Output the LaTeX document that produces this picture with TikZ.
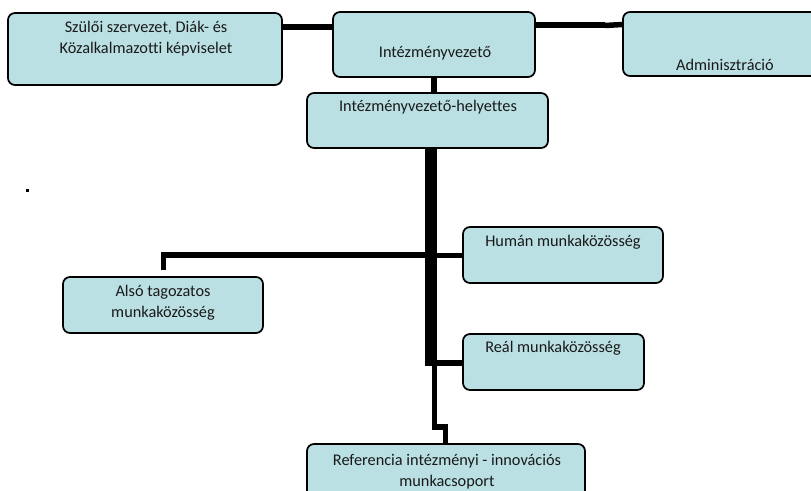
\documentclass[tikz,border=0pt]{standalone}
\usepackage{fontspec}
\setmainfont[Ligatures=NoCommon]{Carlito}
\definecolor{boxfill}{RGB}{187,224,227}
\definecolor{txt}{RGB}{25,25,25}
\tikzset{
  box/.style={draw=black, line width=1.7pt, fill=boxfill, rounded corners=7pt, inner sep=0pt},
  conn/.style={draw=black, line width=5.5pt},
  lbl/.style={font=\fontsize{16.3}{21}\selectfont, text=txt, align=center, inner sep=0pt}
}
\begin{document}
\begin{tikzpicture}[x=1pt,y=-1pt]
\useasboundingbox[fill=white] (0,0) rectangle (811,490);
% boxes
\node[box, minimum width=274pt, minimum height=72pt] (a) at (145,49) {};
\node[box, minimum width=202pt, minimum height=65pt] (b) at (434,44.5) {};
\node[box, minimum width=217pt, minimum height=64pt] (c) at (731.5,44) {};
\node[box, minimum width=241pt, minimum height=55pt] (d) at (427.5,120.5) {};
\node[box, minimum width=200pt, minimum height=56pt] (h) at (563,255) {};
\node[box, minimum width=181pt, minimum height=56pt] (r) at (553.5,362) {};
\node[box, minimum width=200pt, minimum height=56pt] (l) at (163,305) {};
\node[box, minimum width=278pt, minimum height=70pt] (f) at (446,479) {};
% labels
\node[lbl] (ta) at (146,38.5) {Szülői szervezet, Diák- és\\Közalkalmazotti képviselet};
\node[lbl] (tb) at (435,53) {Intézményvezető};
\node[lbl] (tc) at (725,65) {Adminisztráció};
\node[lbl] (td) at (428,107) {Intézményvezető-helyettes};
\node[lbl] (th) at (563,242) {Humán munkaközösség};
\node[lbl] (tr) at (553,348) {Reál munkaközösség};
\node[lbl] (tl) at (163,302.5) {Alsó tagozatos\\munkaközösség};
\node[lbl] (tf) at (447,471.5) {Referencia intézményi - innovációs\\munkacsoport};
% connectors
\draw[conn, line width=6pt] (a.east |- 0,27) -- (b.west |- 0,27);
\coordinate (notch) at (605,25);
\draw[conn, line width=6pt] (b.east |- 0,25) -- (notch);
\draw[conn] ([yshift=-0.5pt]notch) -- (c.west |- 0,24.5);
\draw[conn, line width=6pt] (b.south -| 434,0) -- (d.north -| 434,0);
\coordinate (lend) at (163.5,270);
\draw[conn] (d.south -| 431,0) -- (431,255) -- (163.5,255) -- (lend);
\draw[conn] (d.south -| 433,0) -- (433,255.5) -- (h.west |- 0,255.5);
\draw[conn, line width=6.5pt] (d.south -| 428.5,0) -- (428.5,363) -- (r.west |- 0,363);
\draw[conn] (d.south -| 434.5,0) -- (434.5,427) -- (445.5,427) -- (f.north -| 445.5,0);
% stray mark
\fill[black] (25.5,189) rectangle (28.5,192);
\end{tikzpicture}
\end{document}
